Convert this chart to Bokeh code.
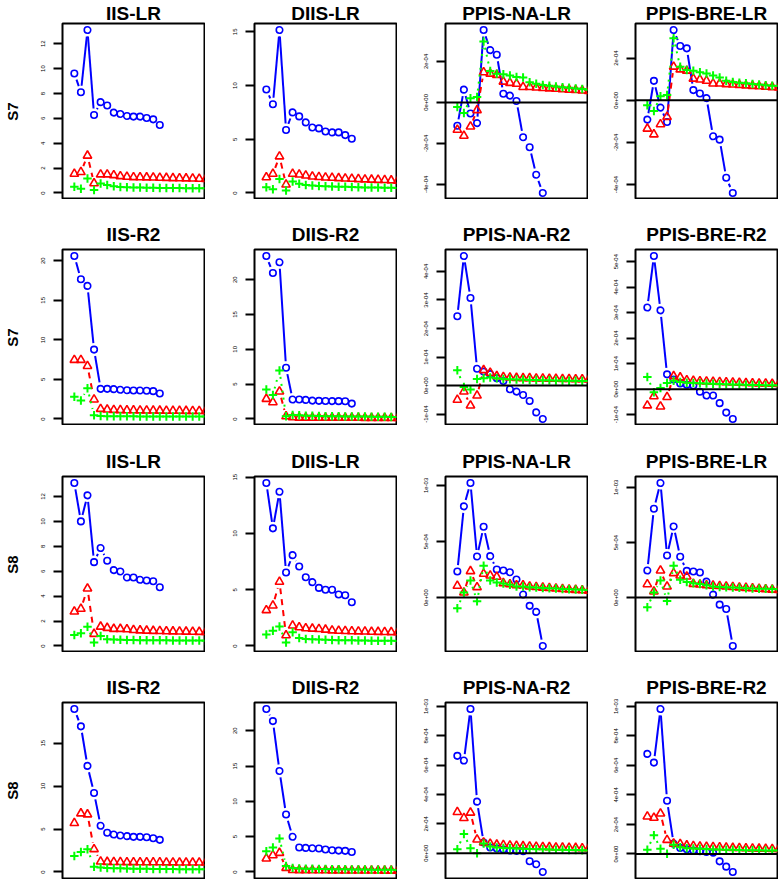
import math
import numpy as np
from bokeh.plotting import figure
from bokeh.layouts import gridplot
from bokeh.models import Range1d, FixedTicker, Span, CustomJSTickFormatter
from bokeh.embed import file_html
from bokeh.resources import INLINE

# ---------------- data ----------------
# IIS / DIIS values in natural units; PPIS values in units of 1e-04
row_labels = ["S7", "S7", "S8", "S8"]

titles = [
    ["IIS-LR", "DIIS-LR", "PPIS-NA-LR", "PPIS-BRE-LR"],
    ["IIS-R2", "DIIS-R2", "PPIS-NA-R2", "PPIS-BRE-R2"],
    ["IIS-LR", "DIIS-LR", "PPIS-NA-LR", "PPIS-BRE-LR"],
    ["IIS-R2", "DIIS-R2", "PPIS-NA-R2", "PPIS-BRE-R2"],
]

# Row 1 (S7, LR)
s7_iis_lr_blue = [9.6, 8.1, 13.1, 6.27, 7.3, 7.03, 6.46, 6.35, 6.19, 6.14, 6.14, 6.03, 5.92, 5.46]
s7_iis_lr_red = [1.54, 1.68, 3.0, 0.78, 1.49, 1.49, 1.43, 1.35, 1.30, 1.27, 1.26, 1.25, 1.24, 1.22, 1.21, 1.19, 1.18, 1.17, 1.16, 1.14, 1.13, 1.12]
s7_iis_lr_green = [0.51, 0.35, 1.16, 0.24, 0.76, 0.65, 0.54, 0.48, 0.46, 0.45, 0.44, 0.43, 0.42, 0.41, 0.41, 0.40, 0.40, 0.39, 0.39, 0.38, 0.38, 0.37]

s7_diis_lr_blue = [9.63, 8.26, 15.17, 5.86, 7.5, 7.13, 6.57, 6.1, 6.01, 5.73, 5.64, 5.64, 5.39, 5.05]
s7_diis_lr_red = [1.46, 1.78, 3.4, 0.78, 1.78, 1.71, 1.62, 1.53, 1.48, 1.44, 1.41, 1.38, 1.35, 1.32, 1.29, 1.26, 1.24, 1.22, 1.2, 1.17, 1.15, 1.14]
s7_diis_lr_green = [0.53, 0.34, 1.31, 0.22, 1.06, 0.87, 0.75, 0.7, 0.66, 0.63, 0.61, 0.59, 0.57, 0.55, 0.54, 0.52, 0.51, 0.5, 0.49, 0.48, 0.47, 0.46]

s7_na_lr_blue = [-1.14, 0.62, -0.54, -1.01, 3.53, 2.55, 2.32, 0.42, 0.33, 0.07, -1.70, -2.19, -3.53, -4.42]
s7_na_lr_red = [-1.34, -1.63, -1.18, -0.38, 1.47, 1.40, 1.34, 1.01, 0.95, 0.91, 0.75, 0.75, 0.72, 0.70, 0.68, 0.66, 0.64, 0.62, 0.60, 0.58, 0.55, 0.53]
s7_na_lr_green = [-0.23, -0.52, 0.20, 0.26, 2.97, 1.53, 1.40, 1.37, 1.31, 1.24, 1.21, 0.98, 0.91, 0.85, 0.81, 0.77, 0.74, 0.71, 0.68, 0.65, 0.62, 0.60]

s7_bre_lr_blue = [-0.92, 0.92, -0.35, -1.03, 3.33, 2.57, 2.46, 0.48, 0.32, 0.10, -1.71, -1.87, -3.68, -4.40]
s7_bre_lr_red = [-1.35, -1.62, -1.14, -0.79, 1.59, 1.46, 1.40, 1.02, 0.98, 0.92, 0.79, 0.79, 0.76, 0.74, 0.72, 0.70, 0.68, 0.66, 0.64, 0.62, 0.60, 0.58]
s7_bre_lr_green = [-0.24, -0.51, 0.19, 0.25, 2.94, 1.59, 1.43, 1.40, 1.33, 1.27, 1.17, 1.08, 0.92, 0.86, 0.83, 0.80, 0.77, 0.74, 0.71, 0.69, 0.67, 0.65]

# Row 2 (S7, R2)
s7_iis_r2_blue = [20.6, 17.67, 16.82, 8.77, 3.81, 3.81, 3.77, 3.69, 3.64, 3.6, 3.6, 3.56, 3.52, 3.22]
s7_iis_r2_red = [7.46, 7.46, 6.69, 2.46, 1.27, 1.19, 1.14, 1.12, 1.1, 1.09, 1.08, 1.07, 1.06, 1.05, 1.04, 1.03, 1.03, 1.02, 1.01, 1.0, 1.0, 0.99]
s7_iis_r2_green = [2.8, 2.33, 3.9, 0.47, 0.38, 0.34, 0.34, 0.33, 0.33, 0.33, 0.32, 0.32, 0.32, 0.31, 0.31, 0.31, 0.31, 0.30, 0.30, 0.30, 0.30, 0.30]

s7_diis_r2_blue = [23.4, 20.96, 22.5, 7.36, 2.79, 2.79, 2.74, 2.64, 2.6, 2.58, 2.57, 2.56, 2.55, 2.21]
s7_diis_r2_red = [2.88, 2.4, 3.94, 0.38, 0.24, 0.19, 0.19, 0.18, 0.18, 0.17, 0.17, 0.17, 0.16, 0.16, 0.16, 0.15, 0.15, 0.15, 0.15, 0.14, 0.14, 0.14]
s7_diis_r2_green = [4.23, 3.46, 6.97, 0.38, 0.58, 0.53, 0.48, 0.45, 0.43, 0.41, 0.40, 0.38, 0.37, 0.36, 0.35, 0.34, 0.33, 0.32, 0.31, 0.30, 0.29, 0.29]

s7_na_r2_blue = [2.43, 4.54, 3.07, 0.59, 0.49, 0.40, 0.26, 0.16, -0.13, -0.21, -0.33, -0.54, -0.94, -1.17]
s7_na_r2_red = [-0.50, -0.21, -0.70, -0.35, 0.54, 0.45, 0.33, 0.30, 0.28, 0.27, 0.26, 0.26, 0.25, 0.25, 0.24, 0.24, 0.23, 0.23, 0.22, 0.22, 0.21, 0.21]
s7_na_r2_green = [0.54, -0.05, -0.14, 0.23, 0.26, 0.28, 0.26, 0.23, 0.22, 0.21, 0.21, 0.20, 0.20, 0.19, 0.19, 0.18, 0.18, 0.17, 0.17, 0.16, 0.16, 0.16]

s7_bre_r2_blue = [3.20, 5.22, 3.09, 0.58, 0.38, 0.22, 0.17, 0.14, -0.10, -0.25, -0.25, -0.55, -0.92, -1.17]
s7_bre_r2_red = [-0.64, -0.28, -0.68, -0.31, 0.51, 0.46, 0.35, 0.33, 0.31, 0.30, 0.29, 0.28, 0.27, 0.26, 0.25, 0.24, 0.23, 0.22, 0.22, 0.21, 0.20, 0.20]
s7_bre_r2_green = [0.48, -0.12, 0.04, 0.24, 0.33, 0.28, 0.25, 0.24, 0.23, 0.22, 0.21, 0.20, 0.19, 0.18, 0.18, 0.17, 0.16, 0.16, 0.15, 0.15, 0.14, 0.14]

# Row 3 (S8, LR)
s8_iis_lr_blue = [13.08, 10.0, 12.09, 6.73, 7.86, 6.84, 6.09, 5.98, 5.5, 5.5, 5.31, 5.25, 5.2, 4.72]
s8_iis_lr_red = [2.76, 2.98, 4.61, 0.97, 1.55, 1.45, 1.37, 1.37, 1.34, 1.28, 1.25, 1.23, 1.21, 1.2, 1.18, 1.17, 1.16, 1.15, 1.14, 1.13, 1.12, 1.11]
s8_iis_lr_green = [0.88, 1.02, 1.55, 0.27, 0.8, 0.54, 0.52, 0.5, 0.49, 0.48, 0.47, 0.46, 0.46, 0.45, 0.45, 0.44, 0.44, 0.43, 0.43, 0.43, 0.42, 0.42]

s8_diis_lr_blue = [14.48, 10.45, 13.7, 6.53, 8.07, 7.06, 6.11, 5.67, 5.16, 4.99, 4.99, 4.57, 4.51, 3.89]
s8_diis_lr_red = [3.18, 3.59, 5.7, 0.95, 1.81, 1.66, 1.57, 1.54, 1.51, 1.45, 1.38, 1.35, 1.33, 1.31, 1.29, 1.28, 1.26, 1.25, 1.24, 1.23, 1.22, 1.21]
s8_diis_lr_green = [1.01, 1.36, 1.72, 0.3, 1.22, 0.71, 0.62, 0.59, 0.57, 0.55, 0.54, 0.52, 0.51, 0.5, 0.49, 0.48, 0.47, 0.47, 0.46, 0.46, 0.45, 0.45]

s8_na_lr_blue = [2.32, 8.13, 10.21, 3.66, 6.31, 3.69, 2.50, 2.41, 2.26, 1.61, 0.27, -0.74, -1.28, -4.32]
s8_na_lr_red = [1.04, 0.45, 2.35, 0.92, 2.11, 1.96, 1.85, 1.28, 1.19, 1.10, 1.10, 0.98, 0.93, 0.88, 0.84, 0.80, 0.76, 0.72, 0.68, 0.64, 0.60, 0.57]
s8_na_lr_green = [-0.95, 0.45, 1.52, -0.33, 2.83, 1.52, 1.34, 1.25, 1.13, 0.98, 0.98, 0.92, 0.89, 0.86, 0.83, 0.80, 0.77, 0.74, 0.72, 0.70, 0.68, 0.66]

s8_bre_lr_blue = [2.45, 8.06, 10.39, 3.82, 6.45, 3.70, 2.42, 2.36, 2.27, 1.45, 0.27, -0.64, -1.03, -4.39]
s8_bre_lr_red = [1.21, 0.55, 2.45, 1.00, 2.21, 2.00, 1.91, 1.24, 1.18, 1.12, 1.08, 1.04, 1.00, 0.96, 0.92, 0.88, 0.84, 0.80, 0.76, 0.72, 0.68, 0.64]
s8_bre_lr_green = [-0.88, 0.45, 1.55, -0.30, 2.88, 1.61, 1.42, 1.30, 1.24, 1.12, 1.00, 0.97, 0.94, 0.91, 0.88, 0.85, 0.83, 0.81, 0.79, 0.77, 0.76, 0.75]

# Row 4 (S8, R2)
s8_iis_r2_blue = [18.97, 16.95, 12.35, 9.19, 5.38, 4.56, 4.36, 4.25, 4.17, 4.09, 4.09, 4.05, 3.93, 3.74]
s8_iis_r2_red = [5.69, 6.82, 6.7, 2.65, 1.21, 1.17, 1.16, 1.15, 1.14, 1.14, 1.13, 1.13, 1.12, 1.12, 1.11, 1.11, 1.10, 1.10, 1.10, 1.09, 1.09, 1.09]
s8_iis_r2_green = [1.87, 2.34, 2.65, 0.62, 0.51, 0.47, 0.44, 0.42, 0.40, 0.39, 0.38, 0.37, 0.36, 0.35, 0.34, 0.34, 0.33, 0.33, 0.32, 0.32, 0.31, 0.31]

s8_diis_r2_blue = [23.08, 21.37, 14.31, 8.15, 4.98, 3.46, 3.41, 3.36, 3.32, 3.18, 3.08, 3.03, 2.99, 2.84]
s8_diis_r2_red = [1.9, 2.37, 2.7, 0.57, 0.28, 0.26, 0.25, 0.24, 0.23, 0.23, 0.22, 0.22, 0.21, 0.21, 0.21, 0.20, 0.20, 0.20, 0.19, 0.19, 0.19, 0.19]
s8_diis_r2_green = [2.94, 3.46, 4.74, 0.85, 0.57, 0.50, 0.47, 0.45, 0.43, 0.41, 0.40, 0.38, 0.37, 0.36, 0.35, 0.34, 0.33, 0.32, 0.31, 0.30, 0.29, 0.28]

s8_na_r2_blue = [6.63, 6.31, 9.82, 3.51, 0.73, 0.39, 0.32, 0.25, 0.18, 0.16, 0.14, -0.55, -0.75, -1.28]
s8_na_r2_red = [2.80, 2.39, 2.76, 0.93, 0.73, 0.64, 0.58, 0.55, 0.52, 0.50, 0.48, 0.46, 0.44, 0.42, 0.41, 0.39, 0.38, 0.37, 0.36, 0.34, 0.33, 0.32]
s8_na_r2_green = [0.27, 1.30, 0.34, 0.00, 0.66, 0.46, 0.38, 0.36, 0.34, 0.32, 0.30, 0.28, 0.27, 0.26, 0.25, 0.24, 0.23, 0.22, 0.21, 0.20, 0.19, 0.18]

s8_bre_r2_blue = [6.78, 6.19, 9.82, 3.61, 0.70, 0.41, 0.32, 0.23, 0.18, 0.14, 0.09, -0.50, -0.86, -1.22]
s8_bre_r2_red = [2.54, 2.45, 2.74, 0.95, 0.70, 0.68, 0.58, 0.54, 0.51, 0.49, 0.47, 0.45, 0.43, 0.41, 0.40, 0.38, 0.37, 0.36, 0.35, 0.34, 0.33, 0.32]
s8_bre_r2_green = [0.29, 1.27, 0.36, 0.02, 0.63, 0.45, 0.39, 0.37, 0.35, 0.33, 0.31, 0.30, 0.29, 0.28, 0.27, 0.26, 0.26, 0.25, 0.24, 0.24, 0.23, 0.23]

# y-axis tick values per panel (real units)
ticks = [
    [[0, 2, 4, 6, 8, 10, 12], [0, 5, 10, 15], [-4e-4, -2e-4, 0, 2e-4], [-4e-4, -2e-4, 0, 2e-4]],
    [[0, 5, 10, 15, 20], [0, 5, 10, 15, 20], [-1e-4, 0, 1e-4, 2e-4, 3e-4, 4e-4], [-1e-4, 0, 1e-4, 2e-4, 3e-4, 4e-4, 5e-4]],
    [[0, 2, 4, 6, 8, 10, 12], [0, 5, 10, 15], [0, 5e-4, 1e-3], [0, 5e-4, 1e-3]],
    [[0, 5, 10, 15], [0, 5, 10, 15, 20], [0, 2e-4, 4e-4, 6e-4, 8e-4, 1e-3], [0, 2e-4, 4e-4, 6e-4, 8e-4, 1e-3]],
]

series = [
    [(s7_iis_lr_blue, s7_iis_lr_red, s7_iis_lr_green), (s7_diis_lr_blue, s7_diis_lr_red, s7_diis_lr_green),
     (s7_na_lr_blue, s7_na_lr_red, s7_na_lr_green), (s7_bre_lr_blue, s7_bre_lr_red, s7_bre_lr_green)],
    [(s7_iis_r2_blue, s7_iis_r2_red, s7_iis_r2_green), (s7_diis_r2_blue, s7_diis_r2_red, s7_diis_r2_green),
     (s7_na_r2_blue, s7_na_r2_red, s7_na_r2_green), (s7_bre_r2_blue, s7_bre_r2_red, s7_bre_r2_green)],
    [(s8_iis_lr_blue, s8_iis_lr_red, s8_iis_lr_green), (s8_diis_lr_blue, s8_diis_lr_red, s8_diis_lr_green),
     (s8_na_lr_blue, s8_na_lr_red, s8_na_lr_green), (s8_bre_lr_blue, s8_bre_lr_red, s8_bre_lr_green)],
    [(s8_iis_r2_blue, s8_iis_r2_red, s8_iis_r2_green), (s8_diis_r2_blue, s8_diis_r2_red, s8_diis_r2_green),
     (s8_na_r2_blue, s8_na_r2_red, s8_na_r2_green), (s8_bre_r2_blue, s8_bre_r2_red, s8_bre_r2_green)],
]
col_scale = [1.0, 1.0, 1e-4, 1e-4]   # PPIS panels are stored in units of 1e-04

# ---------------- layout / style ----------------
FONT = "Liberation Sans"
FRAME_W = 142
FRAME_H = [176, 176, 176, 176]
BORDER_LEFT = [56, 49, 48, 47]
BORDER_TOP = [16, 50, 51, 50]
TITLE_STANDOFF = [0, 9, 9, 9]
X_LO, X_HI = -0.8, 20.8
GAP = 6.5

R_FMT = CustomJSTickFormatter(code="""
if (tick === 0) { return "0e+00"; }
return tick.toExponential(0).replace(/e([+-])(\\d)$/, function(m, s, d) { return "e" + s + "0" + d; });
""")


def gapped(xs, ys, sx, sy, gap):
    """R type='b' style: segments between points, leaving a gap around each point."""
    out_x, out_y = [], []
    for i in range(len(xs) - 1):
        dx, dy = xs[i + 1] - xs[i], ys[i + 1] - ys[i]
        L = math.hypot(dx * sx, dy * sy)
        if L <= 2 * gap:
            continue
        f = gap / L
        out_x.append([xs[i] + dx * f, xs[i + 1] - dx * f])
        out_y.append([ys[i] + dy * f, ys[i + 1] - dy * f])
    return out_x, out_y


grid = []
for r in range(4):
    row = []
    for c in range(4):
        blue, red, green = [np.array(s, dtype=float) * col_scale[c] for s in series[r][c]]
        allv = np.concatenate([blue, red, green])
        lo, hi = min(0.0, allv.min()), allv.max()
        pad = 0.04 * (hi - lo)
        y0, y1 = lo - pad, hi + pad

        p = figure(frame_width=FRAME_W, frame_height=FRAME_H[r],
                   x_range=Range1d(X_LO, X_HI), y_range=Range1d(y0, y1),
                   output_backend="svg", toolbar_location=None, x_axis_location=None,
                   min_border_left=BORDER_LEFT[c], min_border_right=1,
                   min_border_top=BORDER_TOP[r], min_border_bottom=1 if r == 3 else 0,
                   title=titles[r][c])
        p.title.text_font = FONT
        p.title.text_font_size = "19px"
        p.title.text_font_style = "bold"
        p.title.align = "center"
        p.title.text_color = "black"
        p.title.standoff = TITLE_STANDOFF[r]
        p.grid.visible = False
        p.outline_line_color = "black"
        p.outline_line_width = 2
        p.outline_line_alpha = 1.0
        p.background_fill_color = "white"
        p.border_fill_color = "white"

        ax = p.yaxis[0]
        ax.ticker = FixedTicker(ticks=ticks[r][c])
        if col_scale[c] != 1.0:
            ax.formatter = R_FMT
        ax.axis_line_color = None
        ax.major_tick_out = 9
        ax.major_tick_in = 0
        ax.major_tick_line_width = 2
        ax.major_tick_line_color = "black"
        ax.minor_tick_line_color = None
        ax.major_label_orientation = "vertical"
        ax.major_label_text_font = FONT
        ax.major_label_text_font_size = "6px"
        ax.major_label_text_color = "black"
        ax.major_label_standoff = 8
        if c == 0:
            ax.axis_label = row_labels[r]
            ax.axis_label_text_font = FONT
            ax.axis_label_text_font_size = "15px"
            ax.axis_label_text_font_style = "bold"
            ax.axis_label_text_color = "black"
            ax.axis_label_standoff = 18

        if col_scale[c] != 1.0:
            p.add_layout(Span(location=0, dimension="width", line_color="black", line_width=2))

        sx = FRAME_W / (X_HI - X_LO)
        sy = FRAME_H[r] / (y1 - y0)
        styles = [(blue, "#0000FF", "solid", "circle", 6.5, 1.6),
                  (red, "#FF0000", "6 5", "triangle", 8.5, 1.6),
                  (green, "#00FF00", "2 5", "cross", 8.5, 2.0)]
        for vals, col, dash, marker, size, lw in styles:
            xs = list(range(1, len(vals) + 1))
            gx, gy = gapped(xs, list(vals), sx, sy, GAP)
            if gx:
                p.multi_line(gx, gy, line_color=col, line_width=2, line_dash=dash)
            p.scatter(xs, vals, marker=marker, size=size, line_color=col,
                      fill_color=None, line_width=lw)
        row.append(p)
    grid.append(row)

layout = gridplot(grid, toolbar_location=None)
open("out.html", "w").write(file_html(layout, INLINE))
